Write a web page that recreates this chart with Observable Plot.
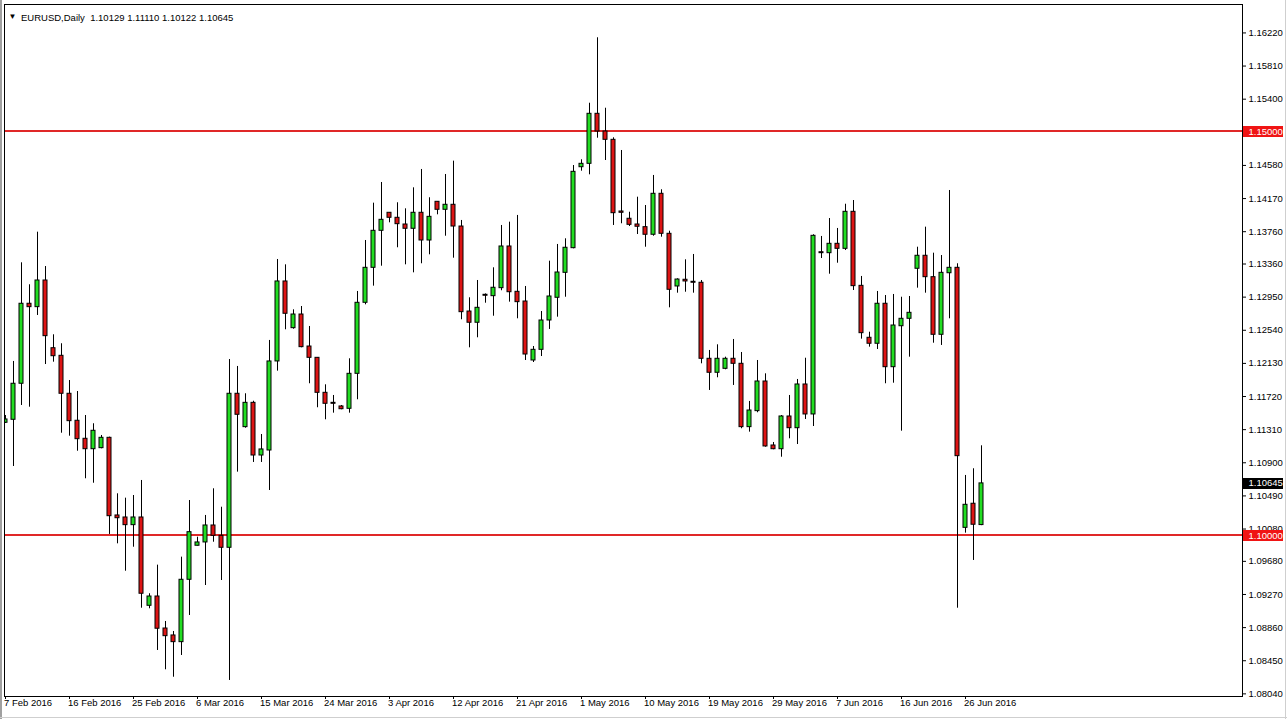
<!DOCTYPE html>
<html><head><meta charset="utf-8">
<script src="https://cdn.jsdelivr.net/npm/d3@7"></script>
<script src="https://cdn.jsdelivr.net/npm/@observablehq/plot@0.6"></script>
<style>html,body{margin:0;padding:0;background:#fff;overflow:hidden}</style>
</head><body><div id="chart"></div>
<script>
const symbol = "EURUSD";
const period = "Daily";
const dates = [
"2016-02-07","2016-02-08","2016-02-09","2016-02-10","2016-02-11","2016-02-12",
"2016-02-14","2016-02-15","2016-02-16","2016-02-17","2016-02-18","2016-02-19",
"2016-02-21","2016-02-22","2016-02-23","2016-02-24","2016-02-25","2016-02-26",
"2016-02-28","2016-02-29","2016-03-01","2016-03-02","2016-03-03","2016-03-04",
"2016-03-06","2016-03-07","2016-03-08","2016-03-09","2016-03-10","2016-03-11",
"2016-03-13","2016-03-14","2016-03-15","2016-03-16","2016-03-17","2016-03-18",
"2016-03-20","2016-03-21","2016-03-22","2016-03-23","2016-03-24","2016-03-25",
"2016-03-27","2016-03-28","2016-03-29","2016-03-30","2016-03-31","2016-04-01",
"2016-04-03","2016-04-04","2016-04-05","2016-04-06","2016-04-07","2016-04-08",
"2016-04-10","2016-04-11","2016-04-12","2016-04-13","2016-04-14","2016-04-15",
"2016-04-17","2016-04-18","2016-04-19","2016-04-20","2016-04-21","2016-04-22",
"2016-04-24","2016-04-25","2016-04-26","2016-04-27","2016-04-28","2016-04-29",
"2016-05-01","2016-05-02","2016-05-03","2016-05-04","2016-05-05","2016-05-06",
"2016-05-08","2016-05-09","2016-05-10","2016-05-11","2016-05-12","2016-05-13",
"2016-05-15","2016-05-16","2016-05-17","2016-05-18","2016-05-19","2016-05-20",
"2016-05-22","2016-05-23","2016-05-24","2016-05-25","2016-05-26","2016-05-27",
"2016-05-29","2016-05-30","2016-05-31","2016-06-01","2016-06-02","2016-06-03",
"2016-06-05","2016-06-06","2016-06-07","2016-06-08","2016-06-09","2016-06-10",
"2016-06-12","2016-06-13","2016-06-14","2016-06-15","2016-06-16","2016-06-17",
"2016-06-19","2016-06-20","2016-06-21","2016-06-22","2016-06-23","2016-06-24",
"2016-06-26","2016-06-27","2016-06-28"
];
const open = [
1.11395,1.11432,1.11878,1.12868,1.12826,1.13156,
1.12318,1.12224,1.11754,1.11420,1.11197,1.11068,
1.11081,1.11209,1.10248,1.10223,1.10128,1.10223,
1.09130,1.09245,1.08849,1.08763,1.08680,1.09452,
1.09873,1.09914,1.10124,1.09996,1.09848,1.11754,
1.11341,1.11642,1.10990,1.11052,1.12154,1.13144,
1.12566,1.12735,1.12339,1.12199,1.11766,1.11642,
1.11597,1.11568,1.12001,1.12880,1.13313,1.13771,
1.13994,1.13932,1.13849,1.13796,1.13994,1.13651,
1.14130,1.14031,1.14093,1.13824,1.12772,1.12633,
1.12979,1.12962,1.13061,1.13577,1.13016,1.12896,
1.12166,1.12298,1.12661,1.12942,1.13251,1.13556,
1.14558,1.14600,1.15219,1.15000,1.14897,1.14010,
1.13920,1.13849,1.13816,1.13722,1.14229,1.13734,
1.13082,1.13165,1.13140,1.13128,1.12187,1.12014,
1.12063,1.12187,1.12125,1.11341,1.11539,1.11906,
1.11114,1.11068,1.11473,1.11328,1.11869,1.11498,
1.13506,1.13494,1.13610,1.13548,1.14006,1.13090,
1.12447,1.12373,1.12868,1.12083,1.12590,1.12682,
1.13301,1.13462,1.13197,1.12484,1.13246,1.13313,
1.10095,1.10393,1.10129
];
const high = [
1.11485,1.12154,1.13375,1.13103,1.13754,1.13329,
1.12484,1.12373,1.11918,1.11782,1.11485,1.11383,
1.11238,1.11217,1.10516,1.10462,1.10495,1.10681,
1.09279,1.09633,1.08936,1.08812,1.09732,1.10433,
1.09979,1.10248,1.10578,1.10350,1.12178,1.12092,
1.11754,1.11662,1.11250,1.12414,1.13416,1.13350,
1.12793,1.12834,1.12587,1.12199,1.11865,1.11733,
1.11609,1.12187,1.13020,1.13651,1.14113,1.14369,
1.13994,1.14118,1.14043,1.14303,1.14530,1.14180,
1.14130,1.14468,1.14633,1.13899,1.12942,1.13156,
1.12990,1.13313,1.13837,1.13878,1.13961,1.13082,
1.12339,1.12772,1.13395,1.13602,1.13672,1.14579,
1.14650,1.15350,1.16160,1.15288,1.14922,1.14765,
1.14001,1.14187,1.14084,1.14456,1.14279,1.13766,
1.13177,1.13412,1.13478,1.13156,1.12290,1.12360,
1.12207,1.12426,1.12265,1.11659,1.12166,1.12001,
1.11151,1.11485,1.11733,1.11931,1.12194,1.13722,
1.13701,1.13923,1.13800,1.14100,1.14146,1.13206,
1.12516,1.13020,1.12970,1.12983,1.12949,1.12958,
1.13568,1.13816,1.13494,1.13465,1.14270,1.13363,
1.10743,1.10826,1.11110
];
const low = [
1.11386,1.10854,1.11609,1.11588,1.12723,1.12116,
1.12145,1.11266,1.11229,1.11043,1.10702,1.10647,
1.11073,1.10013,1.09897,1.09558,1.09855,1.09100,
1.09093,1.08577,1.08338,1.08246,1.08515,1.09010,
1.09870,1.09381,1.09917,1.09443,1.08206,1.10784,
1.11328,1.10904,1.10904,1.10557,1.12034,1.12546,
1.12553,1.12323,1.11878,1.11581,1.11432,1.11514,
1.11556,1.11514,1.11680,1.12855,1.13086,1.13333,
1.13870,1.13561,1.13350,1.13251,1.13363,1.13474,
1.13969,1.13704,1.13432,1.12670,1.12323,1.12447,
1.12875,1.12714,1.13029,1.12888,1.12682,1.12166,
1.12141,1.12215,1.12550,1.12702,1.12949,1.13548,
1.14509,1.14464,1.14917,1.14641,1.13837,1.13858,
1.13824,1.13725,1.13568,1.13704,1.13692,1.12818,
1.12999,1.13011,1.12999,1.12125,1.11795,1.11952,
1.12051,1.11857,1.11321,1.11279,1.11519,1.11093,
1.11061,1.10969,1.11197,1.11126,1.11436,1.11349,
1.13428,1.13234,1.13370,1.13527,1.13032,1.12430,
1.12331,1.12302,1.11878,1.11885,1.11291,1.12207,
1.13061,1.12999,1.12380,1.12352,1.12682,1.09100,
1.10029,1.09691,1.10122
];
const close = [
1.11436,1.11878,1.12868,1.12826,1.13156,1.12467,
1.12219,1.11754,1.11415,1.11192,1.11068,1.11296,
1.11209,1.10239,1.10214,1.10128,1.10223,1.09279,
1.09245,1.08846,1.08754,1.08680,1.09452,1.10041,
1.09914,1.10124,1.09996,1.09848,1.11754,1.11494,
1.11642,1.10990,1.11065,1.12154,1.13144,1.12744,
1.12735,1.12331,1.12199,1.11766,1.11630,1.11630,
1.11563,1.12001,1.12880,1.13313,1.13771,1.13907,
1.13932,1.13853,1.13796,1.13994,1.13651,1.13944,
1.14031,1.14093,1.13824,1.12764,1.12633,1.12818,
1.12967,1.13066,1.13577,1.13011,1.12888,1.12240,
1.12298,1.12661,1.12958,1.13255,1.13561,1.14501,
1.14600,1.15219,1.15000,1.14897,1.13989,1.13994,
1.13845,1.13821,1.13722,1.14229,1.13734,1.13041,
1.13168,1.13144,1.13128,1.12187,1.12014,1.12187,
1.12187,1.12125,1.11341,1.11547,1.11906,1.11102,
1.11068,1.11473,1.11328,1.11869,1.11498,1.13709,
1.13494,1.13610,1.13548,1.14006,1.13086,1.12504,
1.12373,1.12868,1.12083,1.12599,1.12682,1.12756,
1.13462,1.13197,1.12484,1.13251,1.13313,1.10982,
1.10380,1.10133,1.10645
];
const levels = [1.15, 1.10];
const yTicks = [1.16220,1.15810,1.15400,1.14580,1.14170,1.13760,1.13360,1.12950,1.12540,1.12130,1.11720,1.11310,1.10900,1.10490,1.10080,1.09680,1.09270,1.08860,1.08450,1.08040];
const xTickDates = ["2016-02-07","2016-02-16","2016-02-25","2016-03-06","2016-03-15","2016-03-24","2016-04-03","2016-04-12","2016-04-21","2016-05-01","2016-05-10","2016-05-19","2016-05-29","2016-06-07","2016-06-16","2016-06-26"];
const xTickLabels = ["7 Feb 2016","16 Feb 2016","25 Feb 2016","6 Mar 2016","15 Mar 2016","24 Mar 2016","3 Apr 2016","12 Apr 2016","21 Apr 2016","1 May 2016","10 May 2016","19 May 2016","29 May 2016","7 Jun 2016","16 Jun 2016","26 Jun 2016"];

const BULL = "#22dd22", BEAR = "#dd1414", LEVEL = "#e02828";
const FONT = "'Liberation Sans', Arial, sans-serif";

const data = dates.map((d, i) => ({i, date: d, open: open[i], high: high[i], low: low[i], close: close[i]}));
const up = data.filter(d => d.close >= d.open);
const down = data.filter(d => d.close < d.open);
const xTicks = xTickDates.map((d, k) => ({i: dates.indexOf(d), label: xTickLabels[k]}));
const last = data[data.length - 1];
const f5 = v => v.toFixed(5);
const title = `${symbol},${period}\u00a0\u00a0${f5(last.open)} ${f5(last.high)} ${f5(last.low)} ${f5(last.close)}`;

const chart = Plot.plot({
  width: 1287, height: 719,
  marginLeft: 4, marginRight: 45, marginTop: 4, marginBottom: 23,
  x: {type: "linear", domain: [-0.125, 154.625], axis: "bottom", ticks: xTicks.map(d => d.i), tickSize: 3, tickFormat: () => "", label: null},
  y: {domain: [1.080074, 1.165718], axis: "right", ticks: yTicks, tickFormat: f5, tickSize: 3, tickPadding: 3, label: null},
  style: {fontFamily: FONT, fontSize: "9.5px", background: "white", color: "black", overflow: "visible"},
  marks: [
    Plot.ruleY(levels, {stroke: LEVEL, strokeWidth: 2, dy: -0.5}),
    Plot.ruleX(data, {x: "i", y1: "low", y2: "high", stroke: "black", strokeWidth: 1, clip: true}),
    Plot.rect(up, {x1: d => d.i - 0.25, x2: d => d.i + 0.25, y1: "open", y2: "close", fill: BULL, stroke: "black", strokeWidth: 1, clip: true}),
    Plot.rect(down, {x1: d => d.i - 0.25, x2: d => d.i + 0.25, y1: "open", y2: "close", fill: BEAR, stroke: "black", strokeWidth: 1, clip: true}),
    Plot.frame({stroke: "black"}),
    Plot.text(xTicks, {x: "i", text: "label", frameAnchor: "bottom", dy: 9, dx: -1.5, textAnchor: "start", fill: "black"}),
    Plot.text(["\u25BC"], {frameAnchor: "top-left", dx: 4, dy: 9, fontSize: 8, textAnchor: "start", fill: "black"}),
    Plot.text([title], {frameAnchor: "top-left", dx: 16.5, dy: 9.5, textAnchor: "start", fill: "black"})
  ]
});
document.getElementById("chart").appendChild(chart);

// price labels on the right axis, positioned with Plot's own y scale
const ys = chart.scale("y");
const svg = d3.select(chart);
const g = svg.append("g").attr("font-family", FONT).attr("font-size", "9.5px").attr("text-anchor", "start");
function box(v, color) {
  const yy = ys.apply(v) + 0.5;
  g.append("rect").attr("x", 1243).attr("y", Math.round(yy - 5.5)).attr("width", 40).attr("height", 11).attr("fill", color);
  g.append("text").attr("x", 1248.5).attr("y", yy).attr("dy", "0.32em").attr("fill", "white").attr("text-anchor", "start").text(f5(v));
}
levels.forEach(v => box(v, "#f01414"));
box(last.close, "black");
// window edges
svg.append("rect").attr("x", 0).attr("y", 0).attr("width", 2).attr("height", 719).attr("fill", "#a0a0a0");
svg.append("line").attr("x1", 1285.5).attr("x2", 1285.5).attr("y1", 0).attr("y2", 719).attr("stroke", "#cfcfcf");
svg.append("line").attr("x1", 0).attr("x2", 1287).attr("y1", 717.5).attr("y2", 717.5).attr("stroke", "#cfcfcf");
</script>
</body></html>
